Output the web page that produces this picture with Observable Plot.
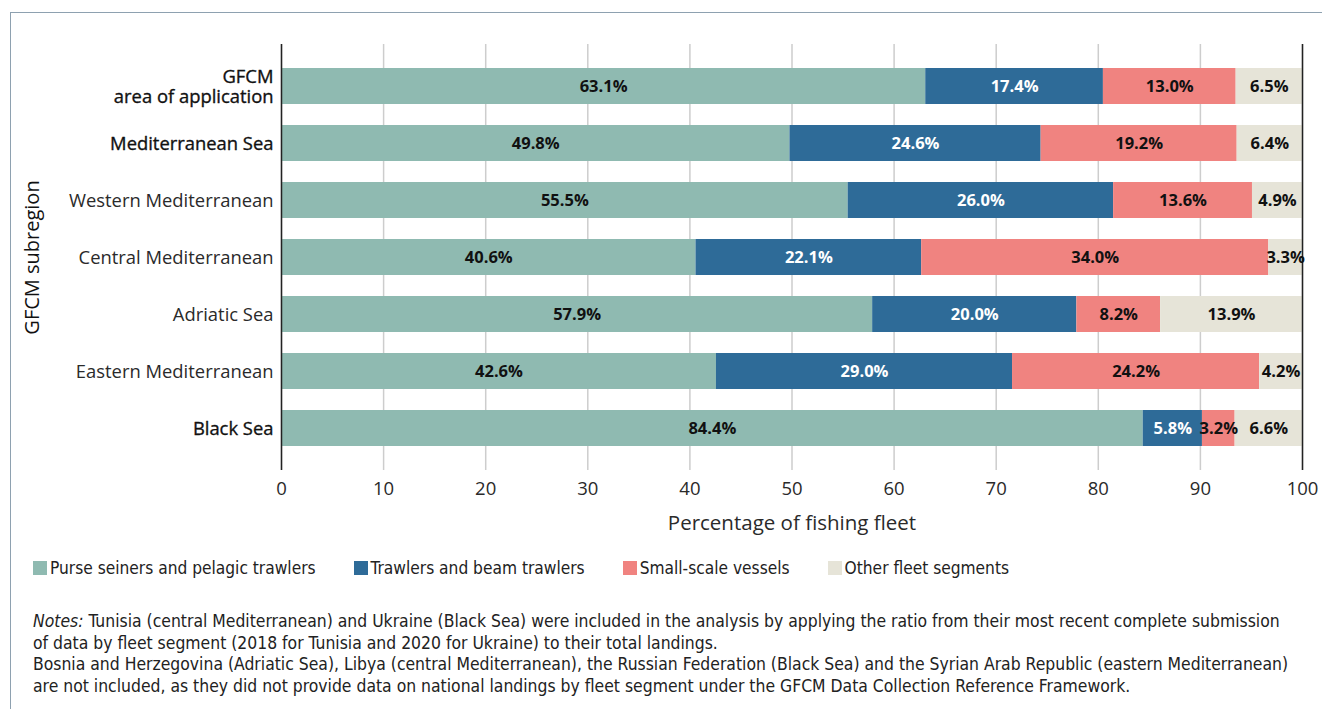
<!DOCTYPE html>
<html>
<head>
<meta charset="utf-8">
<script src="https://cdn.jsdelivr.net/npm/d3@7"></script>
<script src="https://cdn.jsdelivr.net/npm/@observablehq/plot@0.6"></script>
<style>
  html, body { margin: 0; padding: 0; background: #fff; }
  body { width: 1322px; height: 709px; position: relative; overflow: hidden; }
  .frame { position: absolute; left: 10px; top: 12px; width: 1400px; height: 800px; border: 1.5px solid #8ea1b0; box-sizing: border-box; }
  #chart { position: absolute; left: 0; top: 0; }
  #legend { position: absolute; left: 33px; top: 558px; display: flex; gap: 38px; font-family: "Liberation Sans Narrow", "Arial Narrow", "DejaVu Sans Condensed", sans-serif; font-size: 17.2px; color: #222; }
  #legend .item { display: flex; align-items: center; }
  #legend .sw { width: 14px; height: 14px; margin-right: 3px; display: inline-block; }
  #notes { position: absolute; left: 33px; top: 611px; width: 1285px; font-family: "Liberation Sans Narrow", "Arial Narrow", "DejaVu Sans Condensed", sans-serif; font-size: 17.4px; line-height: 21.5px; color: #222; }
</style>
</head>
<body>
<div class="frame"></div>
<div id="chart"></div>
<div id="legend"></div>
<div id="notes"></div>
<script>
const regions = ["GFCM\narea of application", "Mediterranean Sea", "Western Mediterranean", "Central Mediterranean", "Adriatic Sea", "Eastern Mediterranean", "Black Sea"];
const emphasisRegions = ["GFCM\narea of application", "Mediterranean Sea", "Black Sea"];
const segments = ["Purse seiners and pelagic trawlers", "Trawlers and beam trawlers", "Small-scale vessels", "Other fleet segments"];
const purseSeiners = [63.1, 49.8, 55.5, 40.6, 57.9, 42.6, 84.4];
const trawlers = [17.4, 24.6, 26.0, 22.1, 20.0, 29.0, 5.8];
const smallScale = [13.0, 19.2, 13.6, 34.0, 8.2, 24.2, 3.2];
const otherSegments = [6.5, 6.4, 4.9, 3.3, 13.9, 4.2, 6.6];
const colors = ["#8fbab1", "#2e6b98", "#f08380", "#e6e4d8"];
const xTicks = [0, 10, 20, 30, 40, 50, 60, 70, 80, 90, 100];
const xLabel = "Percentage of fishing fleet";
const yLabel = "GFCM subregion";
const notesHtml = "<i>Notes:</i> Tunisia (central Mediterranean) and Ukraine (Black Sea) were included in the analysis by applying the ratio from their most recent complete submission<br>of data by fleet segment (2018 for Tunisia and 2020 for Ukraine) to their total landings.<br>Bosnia and Herzegovina (Adriatic Sea), Libya (central Mediterranean), the Russian Federation (Black Sea) and the Syrian Arab Republic (eastern Mediterranean)<br>are not included, as they did not provide data on national landings by fleet segment under the GFCM Data Collection Reference Framework.";

const series = [purseSeiners, trawlers, smallScale, otherSegments];
const data = [];
regions.forEach((r, i) => {
  segments.forEach((s, j) => data.push({region: r, segment: s, value: series[j][i]}));
});

const fmt = d => d.value.toFixed(1) + "%";

const chart = Plot.plot({
  width: 1322,
  height: 545,
  marginLeft: 281,
  marginRight: 20,
  marginTop: 44,
  marginBottom: 75,
  style: {fontFamily: "'Open Sans', sans-serif", fontSize: "17px", color: "#2a2a2a", background: "transparent"},
  x: {domain: [0, 100]},
  y: {domain: regions, paddingInner: 0.376, paddingOuter: 0.38},
  color: {domain: segments, range: colors},
  marks: [
    Plot.gridX(xTicks, {stroke: "#cdcdcd", strokeOpacity: 1, strokeWidth: 1.5}),
    Plot.barX(data, {x: "value", y: "region", fill: "segment"}),
    Plot.ruleX([0, 100], {stroke: "#222", strokeWidth: 1.5}),
    Plot.text(data, Plot.filter(d => d.segment !== segments[1], Plot.stackX({x: "value", y: "region", z: "segment", text: fmt, fill: "#111", fontWeight: "bold", fontSize: 16.5}))),
    Plot.text(data, Plot.filter(d => d.segment === segments[1], Plot.stackX({x: "value", y: "region", z: "segment", text: fmt, fill: "white", fontWeight: "bold", fontSize: 16.5}))),
    Plot.axisX(xTicks, {tickSize: 0, tickPadding: 11, fontSize: 18.5, label: null}),
    Plot.axisX({tickSize: 0, tickFormat: () => null, fontSize: 20.5, label: xLabel, labelAnchor: "center", labelArrow: "none", labelOffset: 59}),
    Plot.axisY({tickSize: 0, tickPadding: 8, fontSize: 18.4, lineHeight: 1.12, tickFormat: d => emphasisRegions.includes(d) ? null : d, label: null}),
    Plot.axisY({tickSize: 0, tickPadding: 8, fontSize: 18.4, lineHeight: 1.12, fill: "#111", textStroke: "#111", textStrokeWidth: 0.35, tickFormat: d => emphasisRegions.includes(d) ? d : null, label: null}),
    Plot.axisY({tickSize: 0, tickFormat: () => null, fontSize: 20, fill: "#111", textStroke: "#111", textStrokeWidth: 0.4, label: yLabel, labelAnchor: "center", labelArrow: "none", labelOffset: 257})
  ]
});
document.getElementById("chart").appendChild(chart);

const legend = document.getElementById("legend");
segments.forEach((s, j) => {
  const item = document.createElement("div");
  item.className = "item";
  const sw = document.createElement("span");
  sw.className = "sw";
  sw.style.background = colors[j];
  const t = document.createElement("span");
  t.textContent = s;
  item.appendChild(sw);
  item.appendChild(t);
  legend.appendChild(item);
});
document.getElementById("notes").innerHTML = notesHtml;
</script>
</body>
</html>
